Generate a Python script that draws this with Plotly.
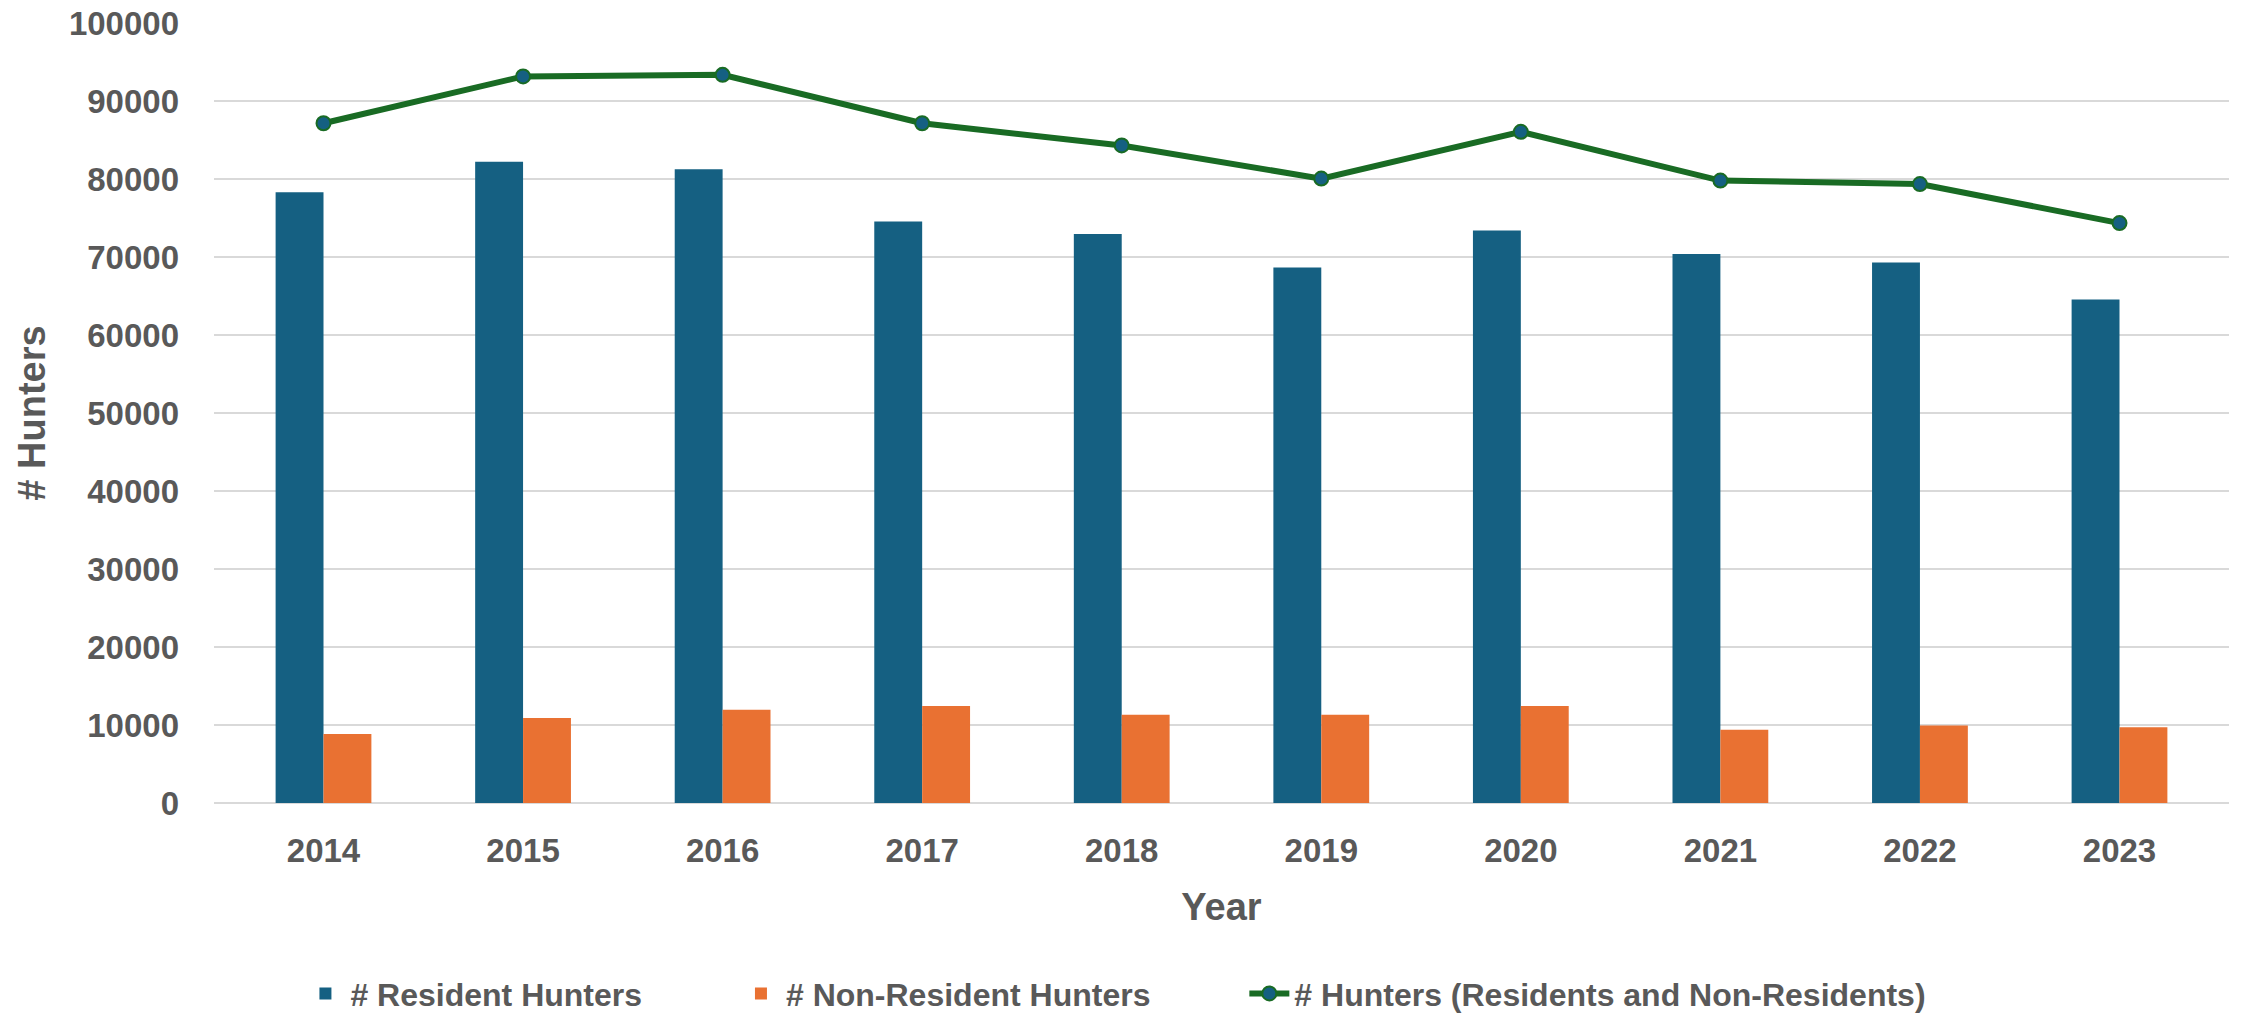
import plotly.graph_objects as go

# DATA
years = ['2014', '2015', '2016', '2017', '2018', '2019', '2020', '2021', '2022', '2023']
resident = [78300, 82200, 81250, 74550, 72950, 68650, 73400, 70400, 69300, 64550]
non_resident = [8850, 10900, 11950, 12450, 11300, 11300, 12450, 9400, 9950, 9700]
total = [87150, 93150, 93350, 87150, 84300, 80050, 86050, 79800, 79350, 74350]

blue = '#156082'
orange = '#E97132'
green = '#196B24'
grey = '#595959'
pad = '\u00a0' * 10

fig = go.Figure()

# BARS
fig.add_trace(go.Bar(x=years, y=resident, name='# Resident Hunters' + pad,
                     marker=dict(color=blue, line=dict(width=0))))
fig.add_trace(go.Bar(x=years, y=non_resident, name='# Non-Resident Hunters' + pad,
                     marker=dict(color=orange, line=dict(width=0))))

# TOTAL LINE
fig.add_trace(go.Scatter(x=years, y=total, name='# Hunters (Residents and Non-Residents)',
                         mode='lines+markers',
                         line=dict(color=green, width=6),
                         marker=dict(size=14, color=blue, line=dict(color=green, width=2))))

# FORMAT GRAPH
fig.update_layout(width=2242, height=1016,
                  margin=dict(l=214, r=13, t=23, b=213, autoexpand=False),
                  plot_bgcolor='white', paper_bgcolor='white',
                  barmode='group', bargap=0.52, bargroupgap=0,
                  font=dict(family='Liberation Sans', color=grey),
                  hovermode=False,
                  legend=dict(orientation='h', xref='container', x=0.134, xanchor='left',
                              yref='container', y=0.022, yanchor='middle',
                              font=dict(family='Liberation Sans', size=32, color=grey, weight='bold'),
                              itemwidth=40, tracegroupgap=0),
                  xaxis=dict(showgrid=False, showline=False, zeroline=False, automargin=False,
                             ticks='', ticklabelstandoff=25,
                             tickfont=dict(size=33, color=grey, weight='bold'),
                             title=dict(text='<b>Year</b>', font=dict(size=38, color=grey), standoff=25)),
                  yaxis=dict(range=[0, 100000], dtick=10000, tickformat='d', automargin=False,
                             showgrid=True, gridcolor='#D9D9D9', gridwidth=2,
                             zeroline=True, zerolinecolor='#D9D9D9', zerolinewidth=2,
                             showline=False, ticks='', ticklabelstandoff=34,
                             tickfont=dict(size=33, color=grey, weight='bold'),
                             title=dict(text='<b># Hunters</b>', font=dict(size=38, color=grey), standoff=11)))

# DROP THE BROWSER'S DEFAULT PAGE MARGIN SO THE FIGURE FILLS THE WINDOW
fig.write_html('out.html', config={'displayModeBar': False},
               post_script="document.body.style.margin='0';")
